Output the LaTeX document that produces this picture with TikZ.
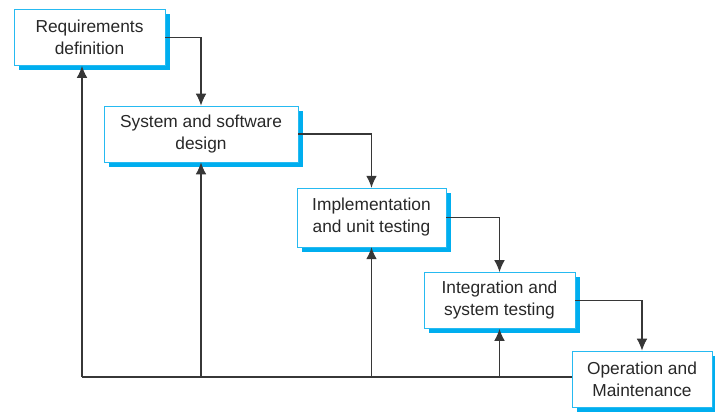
\documentclass[tikz,border=0pt]{standalone}
\usepackage{fontspec}
\setmainfont{Liberation Sans}
\usetikzlibrary{arrows.meta,shadows}
\definecolor{boxblue}{RGB}{0,174,239}
\definecolor{linegrey}{RGB}{55,55,55}
\definecolor{textgrey}{RGB}{40,40,40}
\begin{document}
\begin{tikzpicture}[x=0.75pt, y=-0.75pt,
phase/.style={rectangle, draw=boxblue!85, fill=white, minimum height=42pt, align=center, text=textgrey, font=\fontsize{13}{16.5}\selectfont, drop shadow={shadow xshift=3.5pt, shadow yshift=-3.5pt, fill=boxblue, opacity=1}},
flow/.style={linegrey, line width=1.1pt, -{Latex[length=9pt,width=8pt]}},
back/.style={linegrey, line width=1.1pt},
]
\useasboundingbox (0,0) rectangle (715,412);

%Phases
\node[phase, minimum width=113pt] (req) at (89.5,37.5) {Requirements\\definition};
\node[phase, minimum width=145.5pt] (des) at (201,134) {System and software\\design};
\node[phase, minimum width=112pt, minimum height=44pt] (imp) at (371.5,217.5) {Implementation\\and unit testing};
\node[phase, minimum width=113pt] (int) at (499.5,300.5) {Integration and\\system testing};
\node[phase, minimum width=105pt] (ops) at (642,379) {Operation and\\Maintenance};

%Flow down
\draw[flow] (req.east) -| (des.north);
\draw[flow] (des.east) -| (imp.north);
\draw[flow] (imp.east) -| (int.north);
\draw[flow] (int.east) -| (ops.north);

%Feedback
\coordinate (base) at (82,377);
\draw[back] (ops.west |- base) -- (base);
\draw[flow] (base) -- (base |- req.south);
\draw[flow] (des.south |- base) -- (des.south);
\draw[flow] (imp.south |- base) -- (imp.south);
\draw[flow] (int.south |- base) -- (int.south);
\end{tikzpicture}
\end{document}
